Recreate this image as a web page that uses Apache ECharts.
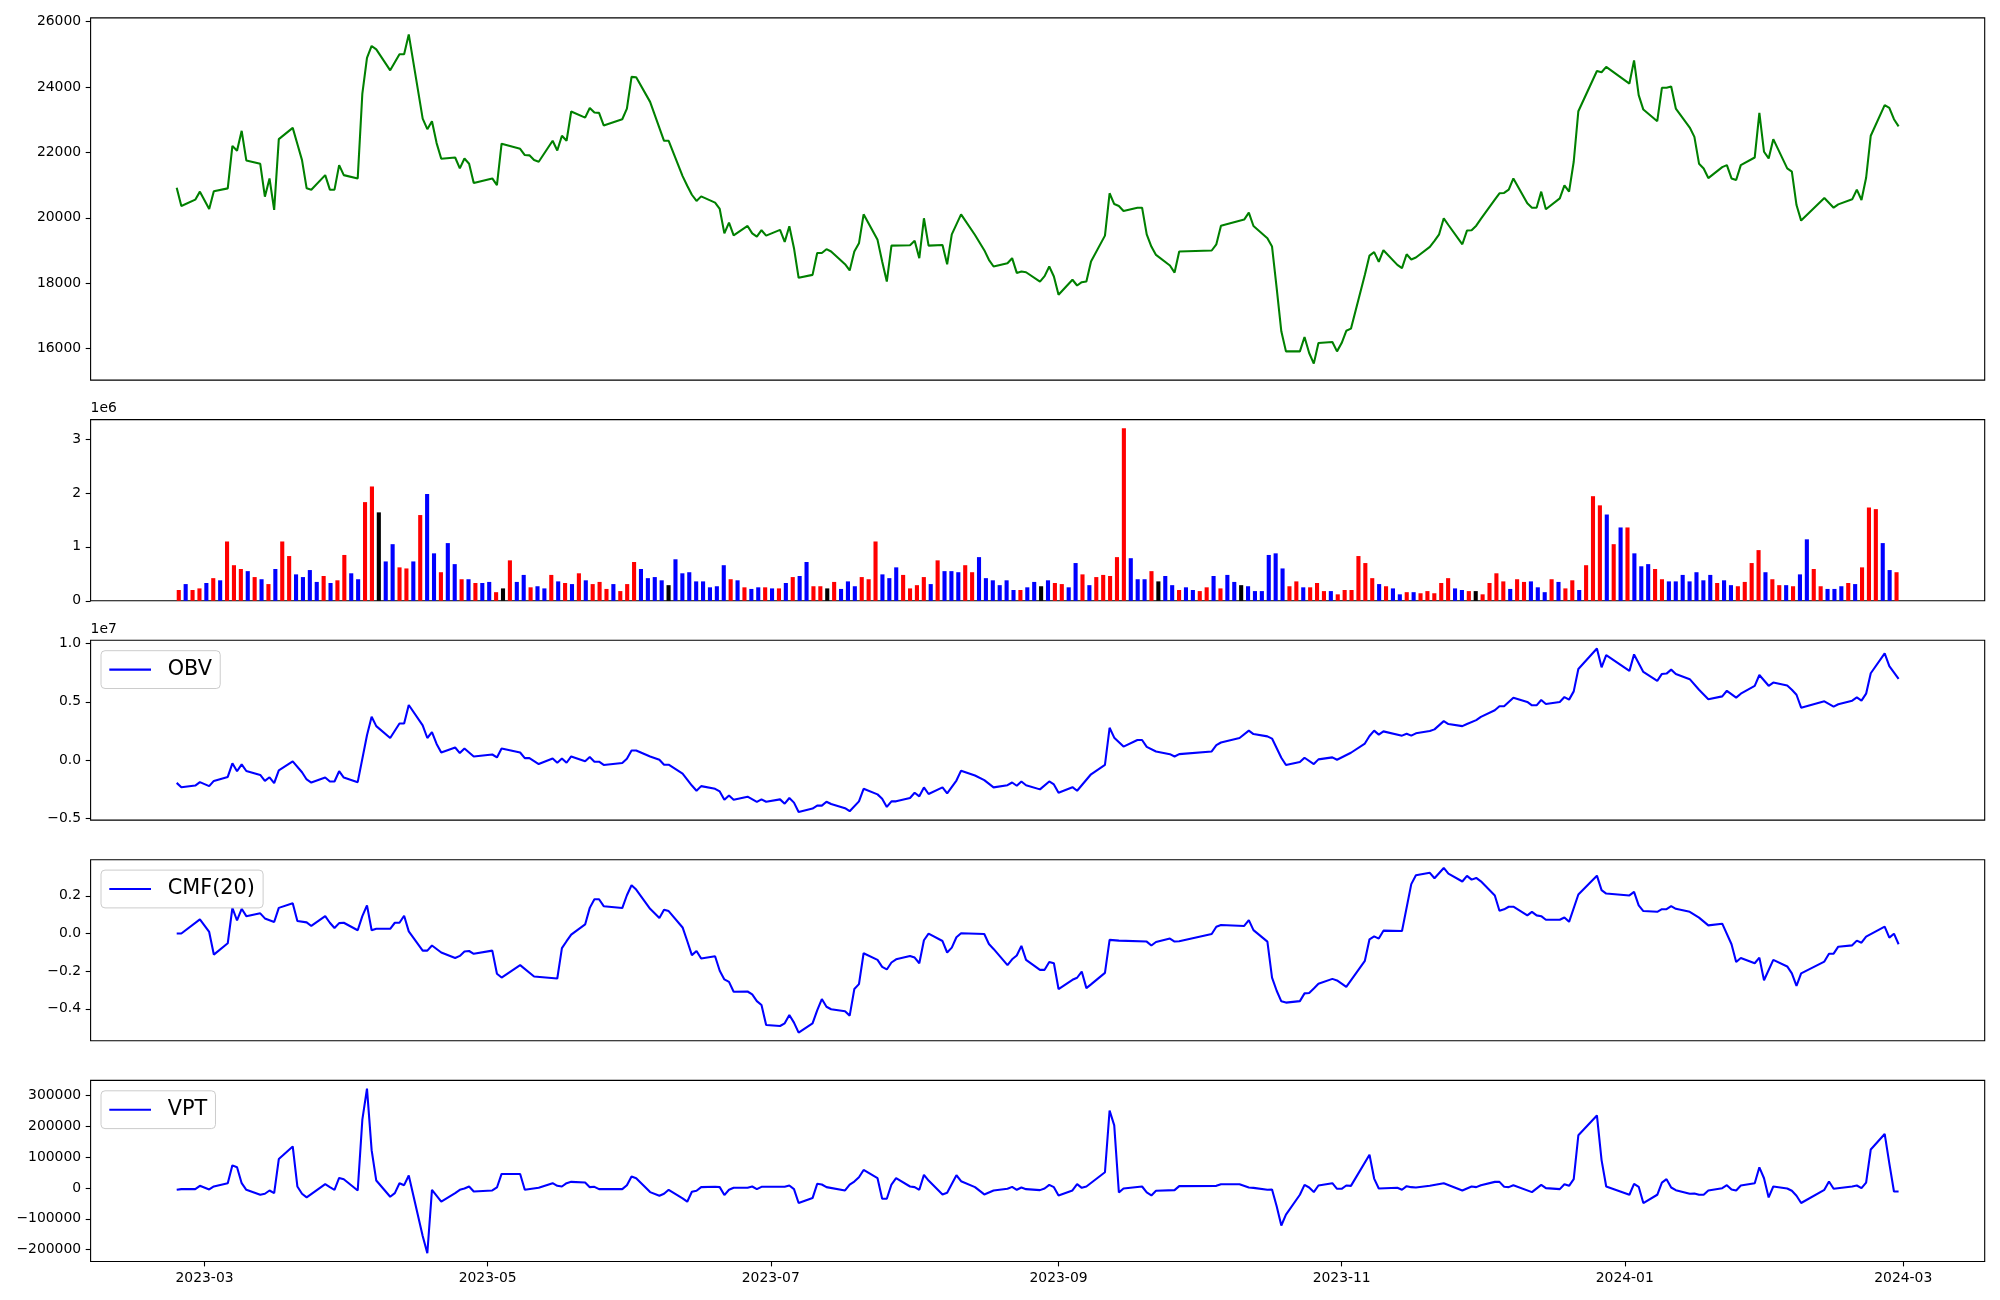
<!DOCTYPE html>
<html>
<head>
<meta charset="utf-8">
<script src="https://cdn.jsdelivr.net/npm/echarts@6/dist/echarts.min.js"></script>
<style>
html,body{margin:0;padding:0;background:#fff;}
#chart{width:2000px;height:1300px;}
</style>
</head>
<body>
<div id="chart"></div>
<script>
// x values of lines: days since 2023-03-01 (trading days)
const price = [[-6,20920],[-5,20360],[-2,20555],[-1,20800],[1,20270],[2,20810],[5,20900],[6,22200],[7,22050],[8,22660],[9,21755],[12,21650],[13,20645],[14,21205],[15,20240],[16,22405],[19,22750],[20,22255],[21,21765],[22,20900],[23,20860],[26,21305],[27,20860],[28,20860],[29,21610],[30,21305],[33,21205],[34,23800],[35,24890],[36,25255],[37,25150],[40,24510],[42,25000],[43,25000],[44,25610],[47,23035],[48,22710],[49,22955],[50,22285],[51,21805],[54,21845],[55,21510],[56,21815],[57,21655],[58,21065],[62,21205],[63,21000],[64,22265],[68,22110],[69,21920],[70,21910],[71,21765],[72,21715],[75,22355],[76,22060],[77,22510],[78,22355],[79,23250],[82,23065],[83,23360],[84,23220],[85,23210],[86,22825],[90,23015],[91,23340],[92,24310],[93,24300],[96,23545],[99,22355],[100,22355],[103,21275],[104,20980],[105,20705],[106,20515],[107,20655],[110,20465],[111,20270],[112,19525],[113,19855],[114,19465],[117,19750],[118,19525],[119,19425],[120,19620],[121,19455],[124,19630],[125,19265],[126,19740],[127,19070],[128,18165],[131,18255],[132,18925],[133,18925],[134,19040],[135,18970],[138,18580],[139,18390],[140,18970],[141,19220],[142,20105],[145,19325],[146,18665],[147,18050],[148,19150],[152,19160],[153,19295],[154,18765],[155,19985],[156,19150],[159,19170],[160,18580],[161,19495],[162,19800],[163,20105],[166,19475],[168,19010],[169,18715],[170,18510],[173,18610],[174,18765],[175,18315],[176,18355],[177,18335],[180,18050],[181,18215],[182,18510],[183,18205],[184,17645],[187,18105],[188,17930],[189,18030],[190,18050],[191,18665],[194,19455],[195,20750],[196,20420],[197,20360],[198,20210],[201,20310],[202,20310],[203,19495],[204,19120],[205,18865],[208,18540],[209,18325],[210,18970],[217,19000],[218,19190],[219,19760],[224,19945],[225,20160],[226,19750],[229,19375],[230,19120],[231,17850],[232,16530],[233,15915],[236,15915],[237,16355],[238,15865],[239,15540],[240,16170],[243,16200],[244,15915],[245,16170],[246,16545],[247,16610],[250,18255],[251,18845],[252,18950],[253,18655],[254,19010],[257,18560],[258,18460],[259,18885],[260,18725],[261,18785],[264,19110],[265,19295],[266,19495],[267,19985],[268,19780],[271,19190],[272,19610],[273,19620],[274,19760],[275,19965],[278,20555],[279,20750],[280,20760],[281,20860],[282,21205],[285,20445],[286,20310],[287,20310],[288,20800],[289,20260],[292,20595],[293,20990],[294,20800],[295,21715],[296,23260],[300,24490],[301,24450],[302,24615],[307,24105],[308,24815],[309,23750],[310,23310],[313,22955],[314,23975],[315,23975],[316,24015],[317,23340],[320,22760],[321,22475],[322,21655],[323,21510],[324,21215],[327,21550],[328,21610],[329,21205],[330,21155],[331,21610],[334,21845],[335,23210],[336,22020],[337,21815],[338,22405],[341,21510],[342,21410],[343,20390],[344,19915],[349,20605],[351,20310],[352,20410],[355,20565],[356,20860],[357,20545],[358,21225],[359,22510],[362,23445],[363,23360],[364,23015],[365,22795]];

// volume per bar (millions), in trading order
const volumeMillions = [0.20,0.31,0.20,0.23,0.33,0.42,0.38,1.10,0.66,0.59,
0.55,0.44,0.40,0.31,0.59,1.10,0.83,0.49,0.44,0.57,
0.35,0.46,0.33,0.38,0.85,0.51,0.40,1.83,2.12,1.64,
0.73,1.05,0.62,0.60,0.73,1.59,1.98,0.88,0.53,1.07,
0.68,0.40,0.40,0.33,0.33,0.35,0.16,0.23,0.75,0.35,
0.48,0.25,0.27,0.23,0.48,0.36,0.33,0.31,0.51,0.38,
0.31,0.35,0.22,0.31,0.18,0.31,0.72,0.59,0.42,0.44,
0.38,0.29,0.77,0.51,0.53,0.36,0.36,0.25,0.27,0.66,
0.40,0.38,0.25,0.22,0.25,0.25,0.23,0.23,0.33,0.44,
0.46,0.72,0.27,0.27,0.23,0.35,0.22,0.36,0.27,0.44,
0.40,1.10,0.49,0.42,0.62,0.48,0.23,0.29,0.44,0.31,
0.75,0.55,0.55,0.53,0.66,0.53,0.81,0.42,0.38,0.29,
0.38,0.20,0.20,0.25,0.35,0.27,0.38,0.33,0.31,0.25,
0.70,0.49,0.29,0.44,0.48,0.46,0.81,3.20,0.79,0.40,
0.40,0.55,0.36,0.46,0.29,0.20,0.25,0.20,0.18,0.25,
0.46,0.23,0.48,0.35,0.29,0.27,0.18,0.18,0.85,0.88,
0.60,0.27,0.36,0.25,0.25,0.33,0.18,0.18,0.12,0.20,
0.20,0.83,0.70,0.42,0.31,0.27,0.23,0.12,0.16,0.16,
0.14,0.18,0.14,0.33,0.42,0.23,0.20,0.18,0.18,0.12,
0.33,0.51,0.36,0.22,0.40,0.35,0.36,0.25,0.16,0.40,
0.35,0.23,0.38,0.20,0.66,1.94,1.77,1.60,1.05,1.36,
1.36,0.88,0.64,0.68,0.59,0.40,0.36,0.36,0.48,0.36,
0.53,0.38,0.48,0.33,0.38,0.29,0.27,0.35,0.70,0.94,
0.53,0.40,0.29,0.29,0.27,0.49,1.14,0.59,0.27,0.22,
0.22,0.27,0.33,0.31,0.62,1.73,1.70,1.07,0.57,0.53];

// bar colour codes: r = up, b = down, k = unchanged
const volumeColorCodes = "rbrrbrbrrr" + "brbrbrrbbb" + "brbrrbbrrk" + "bbrrbrbbrb" + "brbrbbrkrb" +
"brbbrbrbrb" + "rrrbrrrbbb" + "bkbbbbbbbb" + "rbrbbrbrbr" + "bbrrkrbbbr" +
"rrbbbrrrrb" + "rbbbrrbbbb" + "bbrbbkbrrb" + "brbrrrrrbb" + "brkbbrbbrr" +
"brbbkbbbbb" + "brrbrrrbrr" + "rrrrbrbbrb" + "rrrrrbbrkr" + "rrrbrrbbbr" +
"brrbrrrbrb" + "rbbbrrbbbb" + "bbbrbbrrrr" + "brrbrbbrrb" + "bbrbrrrbbr";

// OBV in millions
const obv = [[-6,-1.97],[-5,-2.34],[-2,-2.20],[-1,-1.91],[1,-2.25],[2,-1.80],[5,-1.46],[6,-0.29],[7,-0.97],[8,-0.38],[9,-0.95],[12,-1.29],[13,-1.80],[14,-1.49],[15,-2.00],[16,-0.89],[19,-0.12],[21,-1.06],[22,-1.68],[23,-1.94],[26,-1.51],[27,-1.85],[28,-1.85],[29,-0.97],[30,-1.51],[33,-1.91],[35,2.12],[36,3.71],[37,2.91],[40,1.89],[42,3.14],[43,3.14],[44,4.73],[47,2.97],[48,1.89],[49,2.40],[50,1.38],[51,0.64],[54,1.07],[55,0.59],[56,0.98],[58,0.30],[62,0.47],[63,0.22],[64,0.98],[68,0.64],[69,0.16],[70,0.16],[72,-0.35],[75,0.13],[76,-0.24],[77,0.13],[78,-0.24],[79,0.30],[82,-0.12],[83,0.25],[84,-0.15],[85,-0.15],[86,-0.43],[90,-0.26],[91,0.10],[92,0.81],[93,0.81],[96,0.30],[98,0.02],[99,-0.41],[100,-0.41],[103,-1.17],[105,-2.20],[106,-2.65],[107,-2.25],[110,-2.48],[111,-2.71],[112,-3.42],[113,-3.05],[114,-3.42],[117,-3.16],[119,-3.61],[120,-3.39],[121,-3.59],[124,-3.39],[125,-3.76],[126,-3.27],[127,-3.67],[128,-4.47],[131,-4.18],[132,-3.93],[133,-3.93],[134,-3.59],[135,-3.79],[138,-4.15],[139,-4.41],[141,-3.56],[142,-2.48],[145,-2.96],[146,-3.33],[147,-4.04],[148,-3.56],[149,-3.56],[152,-3.27],[153,-2.82],[154,-3.13],[155,-2.36],[156,-2.93],[159,-2.36],[160,-2.88],[162,-1.77],[163,-0.92],[166,-1.34],[168,-1.74],[170,-2.36],[173,-2.17],[174,-1.94],[175,-2.22],[176,-1.85],[177,-2.17],[180,-2.53],[182,-1.85],[183,-2.11],[184,-2.82],[187,-2.34],[188,-2.65],[191,-1.23],[194,-0.43],[195,2.77],[196,1.92],[198,1.15],[201,1.72],[202,1.72],[203,1.13],[205,0.73],[208,0.50],[209,0.30],[210,0.50],[217,0.73],[218,1.27],[219,1.50],[223,1.89],[225,2.52],[226,2.23],[229,2.03],[230,1.84],[232,0.19],[233,-0.43],[236,-0.18],[237,0.19],[239,-0.35],[240,0.05],[243,0.22],[244,0.02],[247,0.62],[250,1.41],[251,2.06],[252,2.52],[253,2.18],[254,2.46],[258,2.09],[259,2.26],[260,2.09],[261,2.29],[264,2.49],[265,2.63],[267,3.34],[268,3.09],[271,2.91],[272,3.09],[274,3.43],[275,3.71],[278,4.28],[279,4.62],[280,4.62],[282,5.36],[285,4.99],[286,4.70],[287,4.70],[288,5.16],[289,4.82],[292,4.99],[293,5.41],[294,5.19],[295,5.90],[296,7.83],[300,9.59],[301,7.97],[302,9.02],[307,7.66],[308,9.08],[310,7.57],[313,6.80],[314,7.40],[315,7.43],[316,7.77],[317,7.40],[320,6.95],[322,6.04],[324,5.22],[327,5.47],[328,5.95],[330,5.36],[331,5.70],[334,6.38],[335,7.31],[337,6.38],[338,6.66],[341,6.41],[342,6.04],[343,5.61],[344,4.50],[349,5.04],[351,4.59],[352,4.79],[355,5.10],[356,5.38],[357,5.10],[358,5.70],[359,7.46],[362,9.16],[363,8.08],[365,6.97]];

const cmf = [[-6,0.0],[-5,0.0],[-1,0.075],[1,0.008],[2,-0.112],[5,-0.052],[6,0.136],[7,0.069],[8,0.131],[9,0.092],[12,0.107],[13,0.080],[15,0.061],[16,0.136],[19,0.161],[20,0.066],[22,0.059],[23,0.040],[26,0.092],[27,0.057],[28,0.029],[29,0.055],[30,0.057],[33,0.017],[34,0.092],[35,0.149],[36,0.017],[37,0.025],[40,0.025],[41,0.057],[42,0.057],[43,0.094],[44,0.011],[47,-0.091],[48,-0.091],[49,-0.064],[51,-0.101],[54,-0.130],[55,-0.119],[56,-0.096],[57,-0.093],[58,-0.108],[62,-0.091],[63,-0.214],[64,-0.234],[68,-0.168],[71,-0.228],[76,-0.239],[77,-0.078],[78,-0.041],[79,-0.006],[82,0.048],[83,0.136],[84,0.182],[85,0.182],[86,0.145],[90,0.135],[91,0.203],[92,0.256],[93,0.233],[96,0.131],[98,0.082],[99,0.126],[100,0.119],[103,0.032],[104,-0.040],[105,-0.115],[106,-0.093],[107,-0.133],[110,-0.121],[111,-0.198],[112,-0.244],[113,-0.257],[114,-0.309],[117,-0.308],[118,-0.323],[119,-0.359],[120,-0.380],[121,-0.486],[124,-0.491],[125,-0.477],[126,-0.433],[127,-0.473],[128,-0.526],[131,-0.477],[132,-0.408],[133,-0.348],[134,-0.389],[135,-0.402],[138,-0.413],[139,-0.436],[140,-0.295],[141,-0.269],[142,-0.105],[145,-0.140],[146,-0.177],[147,-0.191],[148,-0.154],[149,-0.137],[152,-0.119],[153,-0.128],[154,-0.158],[155,-0.036],[156,-0.001],[159,-0.040],[160,-0.101],[161,-0.075],[162,-0.020],[163,0.001],[168,-0.003],[169,-0.056],[170,-0.082],[173,-0.168],[174,-0.137],[175,-0.117],[176,-0.066],[177,-0.140],[180,-0.193],[181,-0.193],[182,-0.151],[183,-0.158],[184,-0.295],[187,-0.246],[188,-0.235],[189,-0.202],[190,-0.290],[191,-0.270],[194,-0.209],[195,-0.034],[197,-0.038],[203,-0.043],[204,-0.064],[205,-0.045],[208,-0.027],[209,-0.043],[210,-0.041],[217,-0.003],[218,0.036],[219,0.045],[224,0.040],[225,0.071],[226,0.018],[229,-0.043],[230,-0.234],[231,-0.304],[232,-0.360],[233,-0.367],[236,-0.359],[237,-0.318],[238,-0.316],[239,-0.292],[240,-0.267],[243,-0.241],[244,-0.249],[246,-0.283],[250,-0.145],[251,-0.031],[252,-0.015],[253,-0.027],[254,0.015],[258,0.013],[260,0.262],[261,0.309],[264,0.322],[265,0.293],[267,0.348],[268,0.318],[271,0.276],[272,0.306],[273,0.286],[274,0.295],[275,0.277],[278,0.202],[279,0.121],[280,0.128],[281,0.142],[282,0.142],[285,0.096],[286,0.115],[287,0.096],[288,0.092],[289,0.073],[292,0.073],[293,0.085],[294,0.062],[296,0.207],[300,0.307],[301,0.230],[302,0.212],[307,0.202],[308,0.221],[309,0.149],[310,0.119],[313,0.115],[314,0.129],[315,0.129],[316,0.145],[317,0.131],[320,0.115],[322,0.084],[324,0.043],[327,0.052],[329,-0.057],[330,-0.151],[331,-0.130],[334,-0.158],[335,-0.128],[336,-0.248],[338,-0.140],[341,-0.175],[342,-0.212],[343,-0.278],[344,-0.212],[349,-0.149],[350,-0.108],[351,-0.107],[352,-0.070],[355,-0.063],[356,-0.038],[357,-0.049],[358,-0.017],[362,0.036],[363,-0.022],[364,-0.001],[365,-0.057]];

// VPT in thousands
const vpt = [[-6,-5.9],[-5,-3.8],[-2,-3.8],[-1,7.0],[1,-4.8],[2,4.8],[5,15.5],[6,73.4],[7,67.0],[8,15.5],[9,-5.9],[12,-22.0],[13,-18.8],[14,-8.1],[15,-16.6],[16,93.8],[19,134.5],[20,4.8],[21,-18.8],[22,-30.6],[26,12.3],[27,2.7],[28,-5.9],[29,32.7],[30,28.4],[33,-8.1],[34,221.3],[35,322.1],[36,122.7],[37,24.1],[40,-28.4],[41,-16.6],[42,15.5],[43,9.1],[44,40.2],[47,-156],[48,-211.7],[49,-5.9],[51,-44.5],[54,-16.6],[55,-5.9],[56,-1.6],[57,4.8],[58,-11.3],[62,-8.1],[63,1.6],[64,45.5],[68,45.5],[69,-5.9],[72,0.5],[75,15.5],[76,7.0],[77,4.8],[78,15.5],[79,19.8],[82,17.6],[83,2.7],[84,3.7],[85,-3.8],[86,-3.8],[90,-3.8],[91,9.1],[92,37.0],[93,31.6],[96,-13.4],[98,-25.2],[99,-18.8],[100,-5.9],[103,-33.8],[104,-44.5],[105,-12.3],[106,-9.1],[107,2.7],[110,3.7],[111,2.7],[112,-23.1],[113,-5.9],[114,0.5],[117,0.5],[118,4.8],[119,-3.8],[120,3.7],[121,3.7],[125,3.7],[126,8.0],[127,-3.8],[128,-48.8],[131,-32.7],[132,13.4],[133,11.2],[134,2.7],[138,-8.1],[139,11.2],[140,20.9],[141,34.8],[142,58.4],[145,31.6],[146,-34.9],[147,-34.9],[148,11.2],[149,31.6],[152,4.8],[153,2.7],[154,-5.9],[155,42.3],[156,24.1],[159,-20.9],[160,-15.5],[162,41.3],[163,22.0],[166,2.7],[168,-20.9],[170,-8.1],[173,-2.7],[174,3.7],[175,-5.9],[176,1.6],[177,-3.8],[180,-7.0],[181,-1.6],[182,10.2],[183,2.7],[184,-24.1],[187,-8.1],[188,12.3],[189,0.5],[190,4.8],[194,50.9],[195,251.3],[196,203.1],[197,-14.5],[198,-1.6],[202,4.8],[203,-14.5],[204,-24.1],[205,-9.1],[209,-7.0],[210,5.9],[218,6.9],[219,12.3],[223,12.3],[225,1.6],[226,0.4],[229,-6.0],[230,-4.8],[231,-59.5],[232,-121.7],[233,-86.3],[236,-22.0],[237,10.2],[238,1.6],[239,-13.4],[240,8.0],[243,15.5],[244,-2.7],[245,-2.7],[246,8.0],[247,6.9],[251,107.7],[252,30.5],[253,-1.6],[257,0.5],[258,-5.9],[259,5.9],[260,2.7],[261,1.6],[264,7.0],[267,15.5],[271,-8.1],[273,4.8],[274,2.7],[275,9.1],[278,19.8],[279,19.8],[280,3.7],[281,2.7],[282,9.1],[286,-13.4],[288,10.2],[289,-0.6],[292,-3.8],[293,12.3],[294,6.9],[295,28.4],[296,171.0],[300,235.2],[301,90.5],[302,4.8],[307,-22.0],[308,13.4],[309,3.7],[310,-48.8],[313,-22.0],[314,17.6],[315,28.4],[316,1.6],[317,-7.0],[320,-18.8],[321,-17.7],[322,-22.0],[323,-22.0],[324,-8.1],[327,-0.6],[328,9.1],[329,-4.8],[330,-8.1],[331,8.0],[334,15.5],[335,67.0],[336,31.6],[337,-30.6],[338,4.8],[341,-1.6],[342,-9.1],[343,-25.2],[344,-48.8],[349,-5.9],[350,20.9],[351,-2.7],[355,4.8],[356,8.0],[357,-0.6],[358,17.6],[359,124.8],[362,175.2],[363,79.8],[364,-11.3],[365,-11.3]];

const dateTickLabels = ['2023-03','2023-05','2023-07','2023-09','2023-11','2024-01','2024-03'];
const priceTicks = [16000,18000,20000,22000,24000,26000];
const volumeTicks = [0,1,2,3];
const obvTicks = [-5,0,5,10];       // millions -> shown in 1e7
const cmfTicks = [-0.4,-0.2,0.0,0.2];
const vptTicks = [-200,-100,0,100,200,300]; // thousands

// ---------- build ----------
const DAY = 86400000;
const BASE = Date.UTC(2023,2,1);
const toMs = d => BASE + d*DAY;
const tickMs = dateTickLabels.map(s => Date.UTC(+s.slice(0,4), +s.slice(5,7)-1, 1));
const firstDay = price[0][0], lastDay = price[price.length-1][0];
const span = lastDay - firstDay;
const xMin = toMs(firstDay - 0.05*span), xMax = toMs(lastDay + 0.05*span);
const N = volumeMillions.length;
const bLo = -0.3, bHi = N - 1 + 0.3, bM = 0.05*(bHi-bLo);

function yr(arr){ let lo=Infinity, hi=-Infinity; arr.forEach(v=>{lo=Math.min(lo,v);hi=Math.max(hi,v);}); const m=0.05*(hi-lo); return [lo-m, hi+m]; }
const priceR = yr(price.map(p=>p[1]));
const obvR = yr(obv.map(p=>p[1]));
const cmfR = yr(cmf.map(p=>p[1]));
const vptR = yr(vpt.map(p=>p[1]));
const volMax = Math.max(...volumeMillions)*1.05;

const FONT = 'DejaVu Sans';
const minus = s => s.replace('-', '\u2212');
const colorMap = {r:'#ff0000', b:'#0000ff', k:'#000000'};

const L = 90.6, R = 15.3;
const grids = [
  {top:17.9, height:362.2},
  {top:419.6, height:181.2},
  {top:640.3, height:179.8},
  {top:859.7, height:181.1},
  {top:1080.4, height:181.1}
].map(g => Object.assign({left:L, right:R, show:true, borderColor:'#000', borderWidth:1.1, backgroundColor:'transparent', containLabel:false}, g));

function xAxisDef(i, last){
  return {
    type:'value', gridIndex:i, min:xMin, max:xMax, position:'bottom',
    axisLine:{show:false, onZero:false}, splitLine:{show:false},
    axisTick:{show:last, length:4.9, inside:false, lineStyle:{color:'#000', width:1.1}, customValues: tickMs},
    axisLabel:{show:last, color:'#000', fontSize:13.9, fontFamily:FONT, margin:9.5, customValues: tickMs,
      formatter: v => { const d=new Date(v); return d.getUTCFullYear()+'-'+String(d.getUTCMonth()+1).padStart(2,'0'); }}
  };
}
function yAxisDef(i, min, max, ticks, fmt, name){
  const a = {
    type:'value', gridIndex:i, min:min, max:max, scale:true, position:'left',
    axisLine:{show:false, onZero:false}, splitLine:{show:false},
    axisTick:{show:true, length:4.9, lineStyle:{color:'#000', width:1.1}, customValues: ticks},
    axisLabel:{color:'#000', fontSize:13.9, fontFamily:FONT, margin:9.5, customValues: ticks, formatter: fmt}
  };
  if (name) {
    a.name = name; a.nameLocation = 'end'; a.nameGap = 4;
    a.nameTextStyle = {color:'#000', fontSize:13.9, fontFamily:FONT, align:'left', verticalAlign:'bottom'};
  }
  return a;
}

const xAxes = [xAxisDef(0,false), {
    type:'value', gridIndex:1, min:bLo-bM, max:bHi+bM, position:'bottom',
    axisLine:{show:false, onZero:false}, splitLine:{show:false}, axisTick:{show:false}, axisLabel:{show:false}
  }, xAxisDef(2,false), xAxisDef(3,false), xAxisDef(4,true)];

const yAxes = [
  yAxisDef(0, priceR[0], priceR[1], priceTicks, v => String(Math.round(v))),
  yAxisDef(1, 0, volMax, volumeTicks, v => String(Math.round(v)), '1e6'),
  yAxisDef(2, obvR[0], obvR[1], obvTicks, v => minus((v/10).toFixed(1)), '1e7'),
  yAxisDef(3, cmfR[0], cmfR[1], cmfTicks, v => minus(v.toFixed(1))),
  yAxisDef(4, vptR[0], vptR[1], vptTicks, v => minus(String(Math.round(v*1000))))
];

function legendDef(name, top){
  return {
    data:[name], left:101, top:top, orient:'horizontal',
    icon:'rect', itemWidth:41.7, itemHeight:2.1,
    backgroundColor:'rgba(255,255,255,0.8)', borderColor:'#cccccc', borderWidth:1, borderRadius:4,
    padding:[8.4, 8.3, 8.4, 8.3],
    textStyle:{color:'#000', fontSize:20.8, fontFamily:FONT, padding:[0,0,0,11.7]}
  };
}

const lineSeries = (name, data, xi, color) => ({
  name:name, type:'line', xAxisIndex:xi, yAxisIndex:xi,
  data:data.map(p => [toMs(p[0]), p[1]]),
  showSymbol:false, symbol:'none', lineStyle:{color:color, width:2.08}, itemStyle:{color:color},
  animation:false, silent:true
});

const option = {
  backgroundColor:'#ffffff',
  animation:false,
  grid: grids,
  xAxis: xAxes,
  yAxis: yAxes,
  legend: [legendDef('OBV', 650.7), legendDef('CMF(20)', 870.1), legendDef('VPT', 1090.8)],
  series: [
    lineSeries('Close', price, 0, '#008000'),
    {
      name:'Volume', type:'bar', xAxisIndex:1, yAxisIndex:1, barWidth:4.1,
      data: volumeMillions.map((v,i) => ({value:[i, v], itemStyle:{color: colorMap[volumeColorCodes[i]]}})),
      animation:false, silent:true
    },
    lineSeries('OBV', obv, 2, '#0000ff'),
    lineSeries('CMF(20)', cmf, 3, '#0000ff'),
    lineSeries('VPT', vpt, 4, '#0000ff')
  ]
};

const chart = echarts.init(document.getElementById('chart'), null, {renderer:'canvas', width:2000, height:1300});
chart.setOption(option);
</script>
</body>
</html>
